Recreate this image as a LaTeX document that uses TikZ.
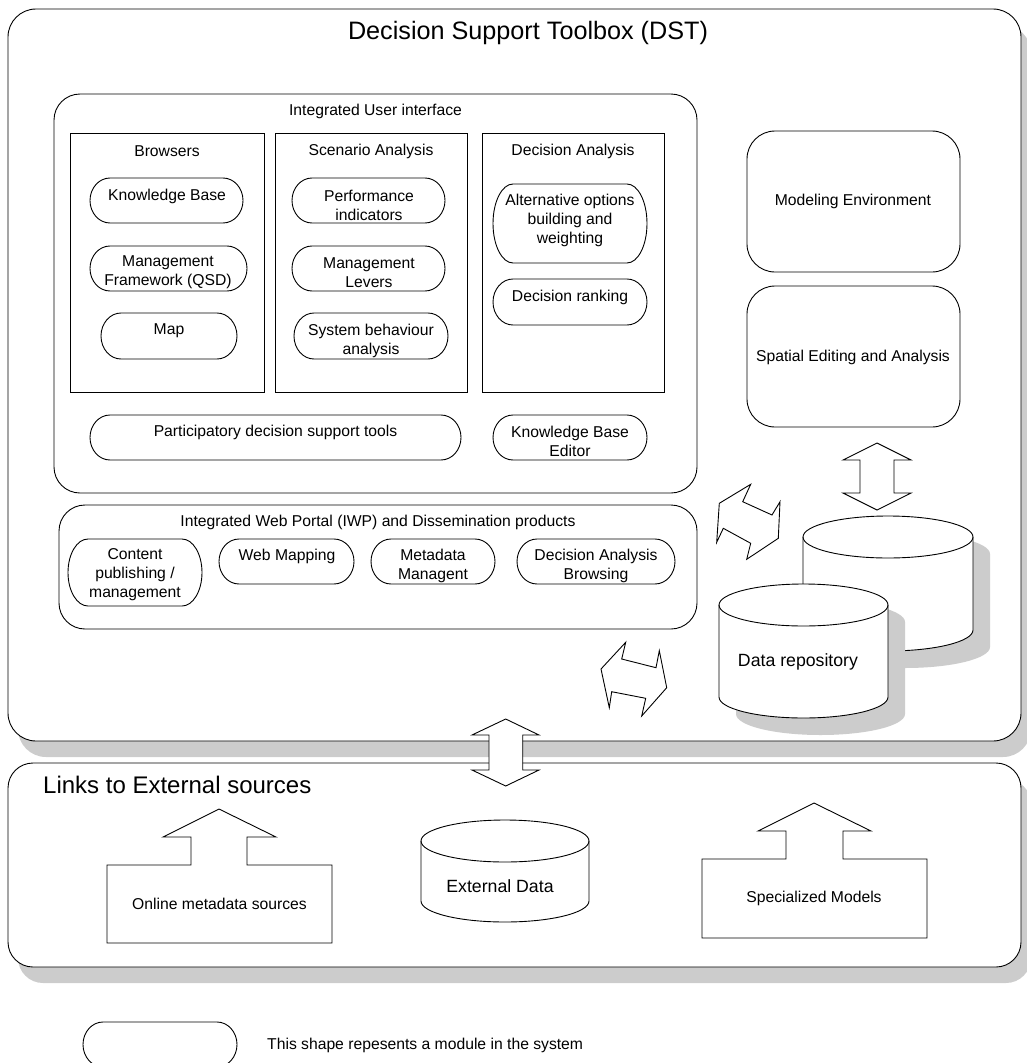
\documentclass[tikz,border=0pt]{standalone}
\usepackage{fontspec}
\setmainfont{Liberation Sans}
\definecolor{shade}{RGB}{204,204,204}

% frame node: name, left, top, right, bottom, style
\newcommand\frm[6]{%
  \node[#6, inner sep=0pt, minimum width={(#4-#2)*1pt}, minimum height={(#5-#3)*1pt}]
    (#1) at ({(#2+#4)/2},{(#3+#5)/2}) {};}

% module pill: name, left, top, right, bottom, text x, text y, text
\newcommand\modpill[8]{%
  \draw[ln] ({#2+20},#3) -- ({#4-20},#3)
    arc[start angle=90, end angle=-90, x radius=20pt, y radius={(#5-#3)*0.5pt}]
    -- ({#2+20},#5)
    arc[start angle=270, end angle=90, x radius=20pt, y radius={(#5-#3)*0.5pt}]
    -- cycle;
  \node[txt] (#1) at (#6,#7) {#8};}

% database cylinder: left, right, top centre y, bottom centre y, y radius, style
\newcommand\dbcyl[6]{%
  \path[#6] (#1,#3) -- (#1,#4)
    arc[start angle=180, end angle=360, x radius={(#2-#1)*0.5pt}, y radius=#5pt]
    -- (#2,#3)
    arc[start angle=0, end angle=180, x radius={(#2-#1)*0.5pt}, y radius=#5pt]
    -- cycle;}
\newcommand\dbrim[5]{%
  \draw[ln] (#1,#3) arc[start angle=180, end angle=360, x radius={(#2-#1)*0.5pt}, y radius=#5pt];}

\begin{document}
\begin{tikzpicture}[x=1pt, y=-1pt,
  ln/.style={draw=black, line width=0.9pt, line join=miter},
  txt/.style={font=\fontsize{15.7}{19}\selectfont, align=center, inner sep=0pt},
  head/.style={font=\fontsize{24}{28}\selectfont, inner sep=0pt},
  title/.style={font=\fontsize{25.2}{29}\selectfont, inner sep=0pt},
  dbtxt/.style={font=\fontsize{17.7}{21}\selectfont, inner sep=0pt},
  cylbody/.style={ln, fill=white},
  cylshadow/.style={fill=shade},
  blockarrow/.style={ln, fill=white},
]
\useasboundingbox (0,0) rectangle (1027,1063);

% ---- outer toolbox and external links panels with shadows
\frm{dstshadow}{18}{25}{1031}{757}{fill=shade, rounded corners=28pt}
\frm{dst}{8}{9}{1021}{741}{ln, fill=white, rounded corners=28pt}
\frm{linksshadow}{18}{779}{1031}{983}{fill=shade, rounded corners=25pt}
\frm{links}{8}{763}{1021}{967}{ln, fill=white, rounded corners=25pt}

\node[title] (dstT) at (528,33) {Decision Support Toolbox (DST)};
\node[head, anchor=west] (linksT) at (43,785) {Links to External sources};

% ---- integrated user interface
\frm{iui}{54}{94}{697}{493}{ln, rounded corners=26pt}
\node[txt] (iuiT) at (375.5,111) {Integrated User interface};

\frm{browsers}{70}{133}{264}{392}{ln}
\frm{scen}{275}{133}{467}{392}{ln}
\frm{decan}{482}{133}{664}{392}{ln}
\node[txt] (browsersT) at (167,151) {Browsers};
\node[txt] (scenT) at (371,151) {Scenario Analysis};
\node[txt] (decanT) at (573,151) {Decision Analysis};

\modpill{kb}{90}{178}{243}{223}{167}{196}{Knowledge Base}
\modpill{mf}{90}{246}{247}{291}{168}{272.5}{Management\\Framework (QSD)}
\modpill{map}{101}{313}{237}{359}{169}{331}{Map}
\modpill{perf}{292}{178}{445}{223}{369}{205.5}{Performance\\indicators}
\modpill{lev}{292}{246}{445}{291}{369}{272.5}{Management\\Levers}
\modpill{sba}{294}{313}{448}{359}{371}{340.5}{System behaviour\\analysis}
\modpill{alt}{493}{184}{647}{263}{570}{220.5}{Alternative options\\building and\\weighting}
\modpill{rank}{493}{279}{647}{325}{570}{297}{Decision ranking}
\modpill{pdst}{90}{415}{461}{460}{275.5}{432}{Participatory decision support tools}
\modpill{kbe}{493}{415}{647}{460}{570}{441.5}{Knowledge Base\\Editor}

% ---- web portal
\frm{iwp}{59}{505}{697}{629}{ln, rounded corners=26pt}
\node[txt] (iwpT) at (378,522) {Integrated Web Portal (IWP) and Dissemination products};
\modpill{cpm}{68}{539}{202}{606}{135}{575}{Content\\publishing /\\management}
\modpill{wmap}{219}{539}{354}{584}{287}{556}{Web Mapping}
\modpill{meta}{371}{539}{495}{584}{433}{565.5}{Metadata\\Managent}
\modpill{dab}{517}{539}{675}{584}{596}{565.5}{Decision Analysis\\Browsing}

% ---- modelling and spatial tools
\frm{modenv}{747}{131}{960}{272}{ln, rounded corners=28pt}
\frm{spatial}{747}{286}{960}{427}{ln, rounded corners=28pt}
\node[txt] (modenvT) at (853,201) {Modeling Environment};
\node[txt] (spatialT) at (853,357) {Spatial Editing and Analysis};

% ---- data repository (two stacked cylinders)
\begin{scope}[shift={(17,17)}]
  \dbcyl{803}{973}{537}{630}{21}{cylshadow}
\end{scope}
\dbcyl{803}{973}{537}{630}{21}{cylbody}
\dbrim{803}{973}{537}{630}{21}
\begin{scope}[shift={(17,17)}]
  \dbcyl{719}{888}{605}{697}{21}{cylshadow}
\end{scope}
\dbcyl{719}{888}{605}{697}{21}{cylbody}
\dbrim{719}{888}{605}{697}{21}
\node[dbtxt] (repoT) at (798,662) {Data repository};

% ---- block arrows inside the toolbox
\draw[blockarrow] (877,443) -- (911,460) -- (894,460) -- (894,493) -- (911,493)
  -- (877,510) -- (843,493) -- (860,493) -- (860,460) -- (843,460) -- cycle;
\draw[blockarrow] (750.7,484.3) -- (742.7,501.7) -- (772,515) -- (780,501.7)
  -- (778.3,538.3) -- (746.7,559.3) -- (750.7,543.3) -- (723.3,528.3)
  -- (716.7,542.3) -- (719.3,503.3) -- cycle;
\draw[blockarrow] (625.7,642.3) -- (621.7,659) -- (656,667.7) -- (659.3,650.7)
  -- (666.7,687.7) -- (641.7,716) -- (645.7,698.3) -- (611.7,691.7)
  -- (609.3,707.7) -- (601,669) -- cycle;

% ---- external sources
\draw[blockarrow] (107,865) -- (191,865) -- (191,837) -- (163,837) -- (219,809)
  -- (276,837) -- (247,837) -- (247,865) -- (332,865) -- (332,943) -- (107,943) -- cycle;
\node[txt] (onlineT) at (219.5,904) {Online metadata sources};

\dbcyl{421}{589}{841}{901}{21}{cylbody}
\dbrim{421}{589}{841}{901}{21}
\node[dbtxt] (extT) at (500,886) {External Data};

\draw[blockarrow] (702,859) -- (786,859) -- (786,831) -- (758,831) -- (814,803)
  -- (871,831) -- (843,831) -- (843,859) -- (927,859) -- (927,938) -- (702,938) -- cycle;
\node[txt] (specT) at (814,898) {Specialized Models};

% ---- link between toolbox and external sources
\draw[blockarrow] (505.7,719) -- (539,735) -- (522.7,735) -- (522.7,770) -- (539,770)
  -- (505.7,786) -- (472,770) -- (489,770) -- (489,735) -- (472,735) -- cycle;

% ---- legend
\modpill{legend}{83}{1022}{237}{1067}{160}{1045}{}
\node[txt, anchor=west] (legendT) at (267,1045) {This shape repesents a module in the system};
\end{tikzpicture}
\end{document}
